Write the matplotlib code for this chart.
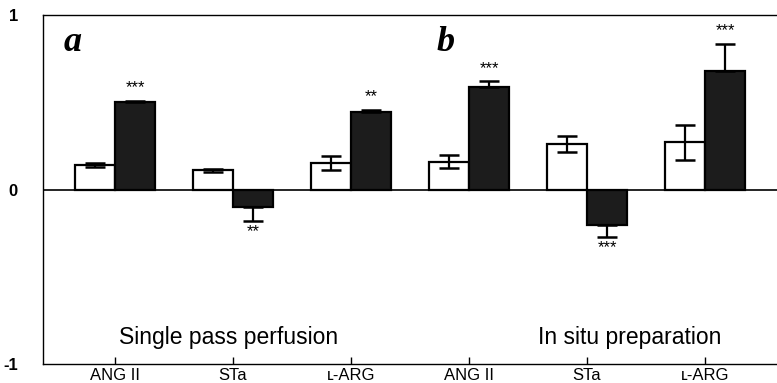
import matplotlib
matplotlib.use("Agg")
import matplotlib.pyplot as plt
import numpy as np

# --- data: control (open) and treated (filled) responses ---
agents = ["ANG II", "STa", "ʟ-ARG", "ANG II", "STa", "ʟ-ARG"]
control_mean = [0.14, 0.11, 0.15, 0.16, 0.26, 0.27]
control_err = [0.01, 0.01, 0.04, 0.035, 0.045, 0.10]
treated_mean = [0.50, -0.10, 0.445, 0.585, -0.205, 0.68]
treated_err = [0.01, 0.08, 0.01, 0.035, 0.07, 0.155]
stars = ["***", "**", "**", "***", "***", "***"]
panel_letters = ["a", "b"]
panel_titles = ["Single pass perfusion", "In situ preparation"]

plt.rcParams["font.family"] = ["Liberation Sans", "DejaVu Sans"]

fig = plt.figure(figsize=(7.77, 3.83), dpi=100)
ax = fig.add_axes([0.0553, 0.0496, 0.9447, 0.9112])

x = np.arange(len(agents))
w = 0.34
xc = x - w / 2
xt = x + w / 2

ax.bar(xc, control_mean, w, color="white", edgecolor="black",
       linewidth=1.6, zorder=2)
ax.bar(xt, treated_mean, w, color="#1c1c1c", edgecolor="black",
       linewidth=1.6, zorder=2)
ax.errorbar(xc, control_mean, yerr=control_err, fmt="none",
            ecolor="black", elinewidth=1.6, capsize=7, capthick=1.8, zorder=3)

# filled bars only show the outward half of the error bar
treated_mean = np.array(treated_mean)
treated_err = np.array(treated_err)
lower = np.where(treated_mean < 0, treated_err, 0)
upper = np.where(treated_mean >= 0, treated_err, 0)
ax.errorbar(xt, treated_mean, yerr=[lower, upper], fmt="none",
            ecolor="black", elinewidth=1.6, capsize=7, capthick=1.8, zorder=3)

# significance marks beyond the treated error bars
for xi, m, e, s in zip(xt, treated_mean, treated_err, stars):
    if m >= 0:
        ax.annotate(s, (xi, m + e), xytext=(0, 4), textcoords="offset points",
                    ha="center", va="bottom", fontsize=12)
    else:
        ax.annotate(s, (xi, m - e), xytext=(0, -2), textcoords="offset points",
                    ha="center", va="top", fontsize=12)

ax.axhline(0, color="black", linewidth=1.2, zorder=1)

ax.set_xlim(-0.61, 5.61)
ax.set_ylim(-1, 1)
ax.set_yticks([-1, 0, 1])
ax.set_yticklabels(["-1", "0", "1"], fontweight="bold")
ax.set_xticks(x)
ax.set_xticklabels(agents)
ax.tick_params(axis="x", direction="in", length=5, width=1, labelsize=12, pad=3)
ax.tick_params(axis="y", length=0, labelsize=12, pad=18)
ax.spines["right"].set_visible(False)
for side in ["left", "top", "bottom"]:
    ax.spines[side].set_linewidth(1.0)

# panel letters and preparation labels
for letter, title, lx, tx in zip(panel_letters, panel_titles, [-0.36, 2.8], [0.96, 4.36]):
    ax.text(lx, 0.84, letter, family="Liberation Serif", style="italic",
            fontweight="bold", fontsize=26, ha="center", va="center")
    ax.text(tx, -0.85, title, fontsize=16.5, ha="center", va="center")

fig.savefig("out.png", dpi=100)
